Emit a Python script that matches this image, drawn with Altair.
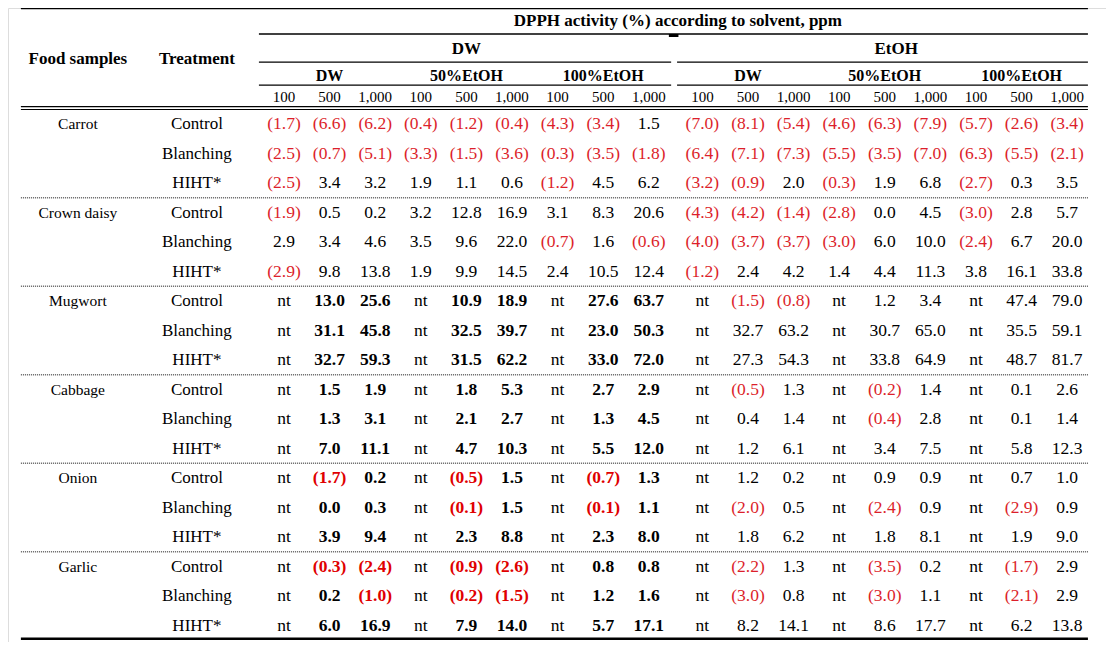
import altair as alt
import pandas as pd

# ---------------- data ----------------
title_text = "DPPH activity (%) according to solvent, ppm"
foods = ["Carrot", "Crown daisy", "Mugwort", "Cabbage", "Onion", "Garlic"]
treatments = ["Control", "Blanching", "HIHT*"]
solvent_groups = ["DW", "EtOH"]
extract_solvents = ["DW", "50%EtOH", "100%EtOH"]
concentrations = ["100", "500", "1,000"]
NT = None  # not tested

carrot = [
    [-1.7, -6.6, -6.2, -0.4, -1.2, -0.4, -4.3, -3.4, 1.5, -7.0, -8.1, -5.4, -4.6, -6.3, -7.9, -5.7, -2.6, -3.4],
    [-2.5, -0.7, -5.1, -3.3, -1.5, -3.6, -0.3, -3.5, -1.8, -6.4, -7.1, -7.3, -5.5, -3.5, -7.0, -6.3, -5.5, -2.1],
    [-2.5, 3.4, 3.2, 1.9, 1.1, 0.6, -1.2, 4.5, 6.2, -3.2, -0.9, 2.0, -0.3, 1.9, 6.8, -2.7, 0.3, 3.5],
]
crown_daisy = [
    [-1.9, 0.5, 0.2, 3.2, 12.8, 16.9, 3.1, 8.3, 20.6, -4.3, -4.2, -1.4, -2.8, 0.0, 4.5, -3.0, 2.8, 5.7],
    [2.9, 3.4, 4.6, 3.5, 9.6, 22.0, -0.7, 1.6, -0.6, -4.0, -3.7, -3.7, -3.0, 6.0, 10.0, -2.4, 6.7, 20.0],
    [-2.9, 9.8, 13.8, 1.9, 9.9, 14.5, 2.4, 10.5, 12.4, -1.2, 2.4, 4.2, 1.4, 4.4, 11.3, 3.8, 16.1, 33.8],
]
mugwort = [
    [NT, 13.0, 25.6, NT, 10.9, 18.9, NT, 27.6, 63.7, NT, -1.5, -0.8, NT, 1.2, 3.4, NT, 47.4, 79.0],
    [NT, 31.1, 45.8, NT, 32.5, 39.7, NT, 23.0, 50.3, NT, 32.7, 63.2, NT, 30.7, 65.0, NT, 35.5, 59.1],
    [NT, 32.7, 59.3, NT, 31.5, 62.2, NT, 33.0, 72.0, NT, 27.3, 54.3, NT, 33.8, 64.9, NT, 48.7, 81.7],
]
cabbage = [
    [NT, 1.5, 1.9, NT, 1.8, 5.3, NT, 2.7, 2.9, NT, -0.5, 1.3, NT, -0.2, 1.4, NT, 0.1, 2.6],
    [NT, 1.3, 3.1, NT, 2.1, 2.7, NT, 1.3, 4.5, NT, 0.4, 1.4, NT, -0.4, 2.8, NT, 0.1, 1.4],
    [NT, 7.0, 11.1, NT, 4.7, 10.3, NT, 5.5, 12.0, NT, 1.2, 6.1, NT, 3.4, 7.5, NT, 5.8, 12.3],
]
onion = [
    [NT, -1.7, 0.2, NT, -0.5, 1.5, NT, -0.7, 1.3, NT, 1.2, 0.2, NT, 0.9, 0.9, NT, 0.7, 1.0],
    [NT, 0.0, 0.3, NT, -0.1, 1.5, NT, -0.1, 1.1, NT, -2.0, 0.5, NT, -2.4, 0.9, NT, -2.9, 0.9],
    [NT, 3.9, 9.4, NT, 2.3, 8.8, NT, 2.3, 8.0, NT, 1.8, 6.2, NT, 1.8, 8.1, NT, 1.9, 9.0],
]
garlic = [
    [NT, -0.3, -2.4, NT, -0.9, -2.6, NT, 0.8, 0.8, NT, -2.2, 1.3, NT, -3.5, 0.2, NT, -1.7, 2.9],
    [NT, 0.2, -1.0, NT, -0.2, -1.5, NT, 1.2, 1.6, NT, -3.0, 0.8, NT, -3.0, 1.1, NT, -2.1, 2.9],
    [NT, 6.0, 16.9, NT, 7.9, 14.0, NT, 5.7, 17.1, NT, 8.2, 14.1, NT, 8.6, 17.7, NT, 6.2, 13.8],
]
table_values = [carrot, crown_daisy, mugwort, cabbage, onion, garlic]

# ---------------- table layout (in column-slot / row units) ----------------
GROUP_GAP = 0.175          # extra space between DW and EtOH blocks
SLOT_FOOD = -4.52
SLOT_TREAT = -1.91
ROW_TITLE = -3.5
ROW_GROUP = -2.55
ROW_SUB = -1.62
ROW_CONC = -0.92
ROW_HEAD = -2.2
LEFT, RIGHT = -5.77, 17.63
COL_START, SPLIT_L, SPLIT_R = -0.55, 8.49, 8.62

RED = "#dc1f2b"
RED_BOLD = "#e00000"
BLACK = "#000000"

# font-size classes
FS = {"head": 17.0, "sub": 16.0, "conc": 15.0, "food": 15.5, "treat": 17.0, "val": 17.5}


def slot(i):
    return i + (GROUP_GAP if i >= 9 else 0.0)


cells = []


def add(x, y, label, color=BLACK, w="normal", fs="val"):
    cells.append(dict(x=x, y=y, label=label, color=color, w=w, fs=FS[fs]))


# header
add(SLOT_FOOD, ROW_HEAD, "Food samples", w="bold", fs="head")
add(SLOT_TREAT, ROW_HEAD, "Treatment", w="bold", fs="head")
add((slot(0) + slot(17)) / 2 + 0.05, ROW_TITLE, title_text, w="bold", fs="head")
for g, gname in enumerate(solvent_groups):
    cx = slot(9 * g + 4) + (0.25 if g == 1 else 0.0)
    add(cx, ROW_GROUP, gname, w="bold", fs="head")
    for s, sname in enumerate(extract_solvents):
        add(slot(9 * g + 3 * s + 1), ROW_SUB, sname, w="bold", fs="sub")
        for c, cname in enumerate(concentrations):
            add(slot(9 * g + 3 * s + c), ROW_CONC, cname, fs="conc")

# body
for f, food in enumerate(foods):
    add(SLOT_FOOD, 3 * f, food, fs="food")
    for t, treat in enumerate(treatments):
        r = 3 * f + t
        add(SLOT_TREAT, r, treat, fs="treat")
        for i, v in enumerate(table_values[f][t]):
            bold = f >= 2 and i < 9
            if v is None:
                add(slot(i), r, "nt")
                continue
            if v < 0:
                lab = f"({abs(v):.1f})"
                col = RED_BOLD if bold else RED
            else:
                lab = f"{v:.1f}"
                col = BLACK
            add(slot(i), r, lab, color=col, w="bold" if bold else "normal")

cells_df = pd.DataFrame(cells)

solid = [
    dict(x=LEFT, x2=RIGHT, y=-3.93, sw=2.2),
    dict(x=COL_START, x2=RIGHT, y=-3.05, sw=1.6),
    dict(x=COL_START, x2=SPLIT_L, y=-2.10, sw=1.2),
    dict(x=SPLIT_R, x2=RIGHT, y=-2.10, sw=1.2),
    dict(x=COL_START, x2=SPLIT_L, y=-1.32, sw=1.2),
    dict(x=SPLIT_R, x2=RIGHT, y=-1.32, sw=1.2),
    dict(x=LEFT, x2=RIGHT, y=-0.59, sw=1.1),
    dict(x=LEFT, x2=RIGHT, y=-0.49, sw=1.1),
    dict(x=LEFT, x2=RIGHT, y=17.45, sw=2.6),
    dict(x=SPLIT_L - 0.05, x2=SPLIT_R + 0.03, y=-3.0, sw=3.0),
]
solid_df = pd.DataFrame(solid)
dotted_df = pd.DataFrame([dict(x=LEFT, x2=RIGHT, y=3 * k + 2.5) for k in range(5)])

W, H = 1098, 634
xs = alt.Scale(domain=[-6.0526, 18.0263], nice=False, zero=False)
ys = alt.Scale(domain=[-3.9322, 17.559], nice=False, zero=False, reverse=True)
X = alt.X("x:Q", scale=xs, axis=None)
Y = alt.Y("y:Q", scale=ys, axis=None)

solid_layer = alt.Chart(solid_df).mark_rule(color="black").encode(
    x=X, x2="x2:Q", y=Y, size=alt.Size("sw:Q", scale=None, legend=None)
)
dotted_layer = alt.Chart(dotted_df).mark_rule(color="#606060", strokeDash=[1, 1], strokeWidth=1.4).encode(
    x=X, x2="x2:Q", y=Y
)

base_text = alt.Chart(cells_df).encode(
    x=X, y=Y, text="label:N",
    color=alt.Color("color:N", scale=None, legend=None),
    size=alt.Size("fs:Q", scale=None, legend=None),
)
normal_text = base_text.transform_filter(alt.datum.w == "normal").mark_text(
    font="Liberation Serif", align="center", baseline="middle"
)
bold_text = base_text.transform_filter(alt.datum.w == "bold").mark_text(
    font="Liberation Serif", fontWeight="bold", align="center", baseline="middle"
)

chart = alt.layer(solid_layer, dotted_layer, normal_text, bold_text).properties(
    width=W, height=H, autosize=alt.AutoSizeParams(type="none"), padding=0
).configure_view(stroke=None).configure(background="white")

chart.save("out.html", embed_options={"renderer": "svg", "actions": False})
